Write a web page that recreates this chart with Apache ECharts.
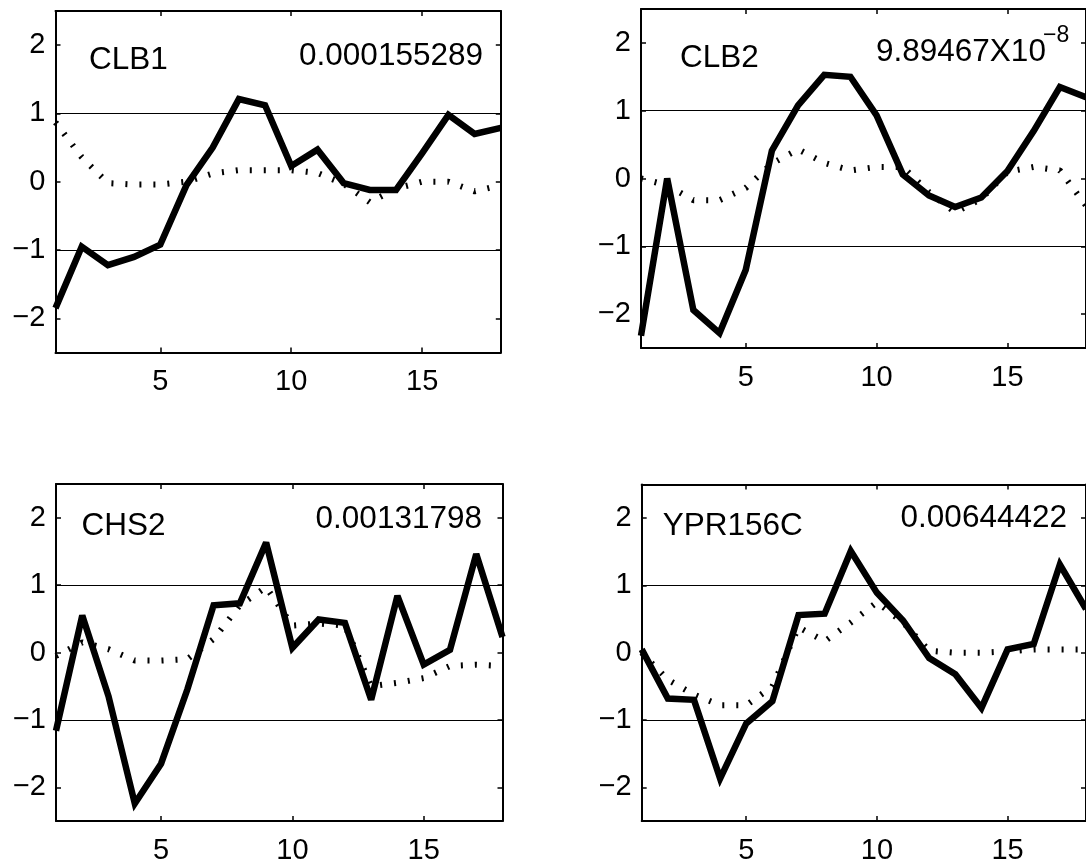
<!DOCTYPE html>
<html>
<head>
<meta charset="utf-8">
<script src="https://cdn.jsdelivr.net/npm/echarts@6/dist/echarts.min.js"></script>
<style>
  html, body { margin: 0; padding: 0; background: #fff; }
  #chart { width: 1086px; height: 865px; }
</style>
</head>
<body>
<div id="chart"></div>
<script>
// time points along x
var steps = [1, 2, 3, 4, 5, 6, 7, 8, 9, 10, 11, 12, 13, 14, 15, 16, 17, 18];
var xTicks = [5, 10, 15];
var yTicks = [-2, -1, 0, 1, 2];
var refLines = [1, -1];

var clb1Solid  = [-1.85, -0.95, -1.22, -1.1, -0.92, -0.05, 0.5, 1.21, 1.12, 0.23, 0.47, -0.02, -0.12, -0.12, 0.42, 0.98, 0.7, 0.79];
var clb1Dotted = [0.87, 0.36, -0.02, -0.04, -0.04, 0.0, 0.12, 0.17, 0.17, 0.17, 0.13, -0.03, -0.3, -0.1, 0.0, 0.0, -0.14, -0.05];

var clb2Solid  = [-2.32, 0.0, -1.94, -2.28, -1.35, 0.41, 1.08, 1.53, 1.5, 0.93, 0.06, -0.25, -0.42, -0.28, 0.11, 0.7, 1.35, 1.2];
var clb2Dotted = [0.0, -0.1, -0.32, -0.32, -0.14, 0.22, 0.43, 0.23, 0.12, 0.17, 0.17, -0.2, -0.5, -0.3, 0.1, 0.17, 0.12, -0.4];

var chs2Solid  = [-1.16, 0.55, -0.65, -2.24, -1.65, -0.55, 0.7, 0.73, 1.63, 0.07, 0.49, 0.44, -0.7, 0.84, -0.18, 0.04, 1.46, 0.23];
var chs2Dotted = [-0.05, 0.15, 0.05, -0.12, -0.12, -0.1, 0.2, 0.7, 0.97, 0.4, 0.43, 0.4, -0.5, -0.45, -0.38, -0.2, -0.18, -0.2];

var yprSolid  = [0.05, -0.68, -0.7, -1.87, -1.05, -0.72, 0.56, 0.58, 1.51, 0.89, 0.48, -0.08, -0.32, -0.82, 0.05, 0.13, 1.31, 0.65];
var yprDotted = [0.0, -0.4, -0.62, -0.78, -0.78, -0.5, 0.38, 0.17, 0.45, 0.75, 0.45, 0.03, 0.0, 0.0, 0.02, 0.05, 0.05, 0.05];

var font = '"Liberation Sans", Arial, Helvetica, sans-serif';

var panels = [
  { solid: clb1Solid, dotted: clb1Dotted, grid: { left: 55.5, top: 11, width: 445.3, height: 341.5 } },
  { solid: clb2Solid, dotted: clb2Dotted, grid: { left: 641, top: 9, width: 453, height: 339 } },
  { solid: chs2Solid, dotted: chs2Dotted, grid: { left: 56, top: 484, width: 446.5, height: 344 } },
  { solid: yprSolid, dotted: yprDotted, grid: { left: 641.7, top: 484.5, width: 453, height: 338.3 } }
];

// gene names and p-values written inside each panel
var labels = [
  { text: 'CLB1', x: 89, y: 60, align: 'left' },
  { text: '0.000155289', x: 483, y: 56, align: 'right' },
  { text: 'CLB2', x: 680, y: 58, align: 'left' },
  { text: '9.89467X10', x: 876, y: 52, align: 'left' },
  { text: '\u22128', x: 1043, y: 36, align: 'left', size: 23 },
  { text: 'CHS2', x: 81.5, y: 526, align: 'left' },
  { text: '0.00131798', x: 482, y: 519, align: 'right' },
  { text: 'YPR156C', x: 662.7, y: 526, align: 'left' },
  { text: '0.00644422', x: 1067, y: 518.5, align: 'right' }
];

function fmtY(v) {
  return v < 0 ? '\u2212' + Math.abs(v) : String(v);
}

var axisLine = { onZero: false, lineStyle: { color: '#000', width: 2 } };
var tickStyle = { color: '#000', width: 1.5 };

var grids = [], xAxes = [], yAxes = [], series = [];

panels.forEach(function (p, i) {
  grids.push(p.grid);

  xAxes.push({
    gridIndex: i, type: 'value', min: 1, max: 18, position: 'bottom',
    axisLine: axisLine,
    axisTick: { inside: true, length: 5, customValues: xTicks, lineStyle: tickStyle },
    axisLabel: { customValues: xTicks, margin: 15, color: '#000', fontSize: 29, fontFamily: font },
    splitLine: { show: false }
  });
  xAxes.push({
    gridIndex: i, type: 'value', min: 1, max: 18, position: 'top',
    axisLine: axisLine,
    axisTick: { inside: true, length: 5, customValues: xTicks, lineStyle: tickStyle },
    axisLabel: { show: false },
    splitLine: { show: false }
  });
  yAxes.push({
    gridIndex: i, type: 'value', min: -2.5, max: 2.5, position: 'left',
    axisLine: axisLine,
    axisTick: { inside: true, length: 5, customValues: yTicks, lineStyle: tickStyle },
    axisLabel: { customValues: yTicks, formatter: fmtY, margin: 10, color: '#000', fontSize: 29, fontFamily: font },
    splitLine: { show: false }
  });
  yAxes.push({
    gridIndex: i, type: 'value', min: -2.5, max: 2.5, position: 'right',
    axisLine: axisLine,
    axisTick: { inside: true, length: 5, customValues: yTicks, lineStyle: tickStyle },
    axisLabel: { show: false },
    splitLine: { show: false }
  });

  series.push({
    type: 'line',
    xAxisIndex: 2 * i, yAxisIndex: 2 * i,
    data: steps.map(function (x, k) { return [x, p.dotted[k]]; }),
    symbol: 'none',
    silent: true,
    lineStyle: { color: '#000', width: 6, type: [2, 12], cap: 'butt' },
    z: 2
  });
  series.push({
    type: 'line',
    xAxisIndex: 2 * i, yAxisIndex: 2 * i,
    data: steps.map(function (x, k) { return [x, p.solid[k]]; }),
    symbol: 'none',
    silent: true,
    lineStyle: { color: '#000', width: 6.5, join: 'miter', miterLimit: 3 },
    markLine: {
      silent: true,
      symbol: ['none', 'none'],
      label: { show: false },
      lineStyle: { color: '#000', width: 1.2, type: 'solid' },
      data: refLines.map(function (v) { return { yAxis: v }; })
    },
    z: 3
  });
});

var chart = echarts.init(document.getElementById('chart'));
chart.setOption({
  animation: false,
  backgroundColor: '#fff',
  grid: grids,
  xAxis: xAxes,
  yAxis: yAxes,
  series: series,
  graphic: labels.map(function (l) {
    return {
      type: 'text',
      x: l.x, y: l.y,
      silent: true,
      style: {
        text: l.text,
        fill: '#000',
        font: (l.size || 31.5) + 'px ' + font,
        textAlign: l.align,
        textVerticalAlign: 'middle'
      }
    };
  })
});
</script>
</body>
</html>
